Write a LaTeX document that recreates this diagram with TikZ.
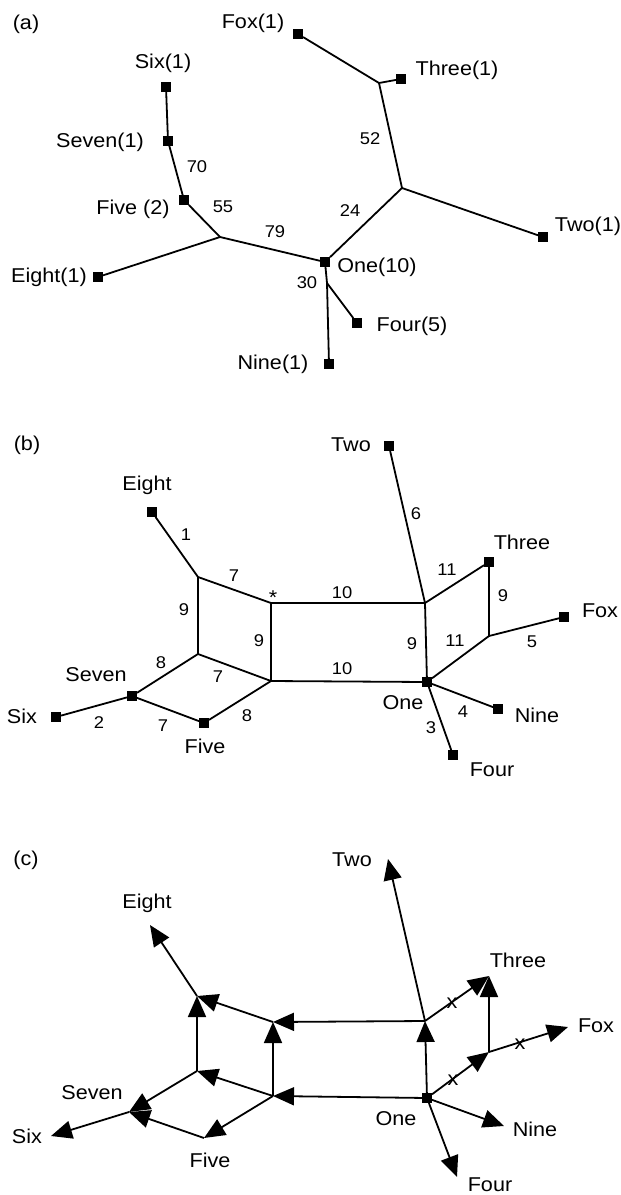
\documentclass[tikz,border=0pt]{standalone}
\usepackage{fontspec}
\setmainfont{Liberation Sans}[FakeStretch=1.08]
\usetikzlibrary{arrows.meta}
\begin{document}
\begin{tikzpicture}[x=1pt,y=-1pt,
  edge/.style={line width=1.8pt},
  sq/.style={fill=black, minimum size=10pt, inner sep=0pt, outer sep=0pt},
  lbl/.style={font=\fontsize{20}{24}\selectfont, inner sep=0pt},
  num/.style={font=\fontsize{17}{20}\selectfont, inner sep=0pt},
  arr/.style={edge, -{Triangle[length=21pt,width=18pt]}},
  xmark/.style={font=\fontsize{20}{24}\selectfont, inner sep=0pt},
]
\useasboundingbox (0,0) rectangle (621,1195);

% ---------------- (a) ----------------
\node[lbl] (ta) at (26,24) {(a)};
\node[sq] (a6) at (166,87) {};   \node[lbl] (la6) at (163,63) {Six(1)};
\node[sq] (a7) at (168,141) {};  \node[lbl] (la7) at (100,142) {Seven(1)};
\node[sq] (a5) at (184,200) {};  \node[lbl] (la5) at (133,209) {Five (2)};
\coordinate (aj1) at (220,237);
\node[sq] (a8) at (98,277) {};   \node[lbl] (la8) at (49,277) {Eight(1)};
\node[sq] (a1) at (325,262) {};  \node[lbl] (la1) at (377,267) {One(10)};
\coordinate (aj4) at (327,283);
\node[sq] (a4) at (357,323) {};  \node[lbl] (la4) at (412,326) {Four(5)};
\node[sq] (a9) at (329,364) {};  \node[lbl] (la9) at (273,364) {Nine(1)};
\coordinate (aj2) at (402,188);
\node[sq] (a2) at (543,237) {};  \node[lbl] (la2) at (588,226) {Two(1)};
\coordinate (aj3) at (379,83);
\node[sq] (af) at (298,34) {};   \node[lbl] (laf) at (253,23) {Fox(1)};
\node[sq] (a3) at (401,79) {};   \node[lbl] (la3) at (457,70) {Three(1)};

\draw[edge] (a6) -- (a7);
\draw[edge] (a7) -- (a5);
\draw[edge] (a5) -- (aj1);
\draw[edge] (aj1) -- (a8);
\draw[edge] (aj1) -- (a1);
\draw[edge] (a1) -- (aj2);
\draw[edge] (aj2) -- (a2);
\draw[edge] (aj2) -- (aj3);
\draw[edge] (aj3) -- (af);
\draw[edge] (aj3) -- (a3);
\draw[edge] (a1) -- (aj4);
\draw[edge] (aj4) -- (a4);
\draw[edge] (aj4) -- (a9);

\node[num] (n70) at (197,167) {70};
\node[num] (n55) at (223,207) {55};
\node[num] (n79) at (275,232) {79};
\node[num] (n30) at (307,283) {30};
\node[num] (n52) at (370,139) {52};
\node[num] (n24) at (350,211) {24};

% ---------------- (b) ----------------
\node[lbl] (tb) at (27,445) {(b)};
\coordinate (bA) at (198,577);
\coordinate (bB) at (271,603);
\coordinate (bC) at (198,654);
\coordinate (bD) at (271,681);
\coordinate (bE) at (425,603);
\coordinate (bF) at (489,636);
\node[sq] (b8) at (152,512) {};  \node[lbl] (lb8) at (147,485) {Eight};
\node[sq] (b7) at (132,696) {};  \node[lbl] (lb7) at (96,675) {Seven};
\node[sq] (b6) at (56,717) {};   \node[lbl] (lb6) at (22,716) {Six};
\node[sq] (b5) at (204,723) {};  \node[lbl] (lb5) at (205,746) {Five};
\node[sq] (b2) at (389,446) {};  \node[lbl] (lb2) at (351,445) {Two};
\node[sq] (b3) at (489,562) {};  \node[lbl] (lb3) at (522,542) {Three};
\node[sq] (bf) at (564,617) {};  \node[lbl] (lbf) at (600,611) {Fox};
\node[sq] (b1) at (427,682) {};  \node[lbl] (lb1) at (403,703) {One};
\node[sq] (b9) at (498,709) {};  \node[lbl] (lb9) at (537,715) {Nine};
\node[sq] (b4) at (453,755) {};  \node[lbl] (lb4) at (492,770) {Four};

\draw[edge] (b8) -- (bA);
\draw[edge] (bA) -- (bB);
\draw[edge] (bA) -- (bC);
\draw[edge] (bB) -- (bD);
\draw[edge] (bB) -- (bE);
\draw[edge] (bC) -- (b7);
\draw[edge] (bC) -- (bD);
\draw[edge] (b7) -- (b6);
\draw[edge] (b7) -- (b5);
\draw[edge] (b5) -- (bD);
\draw[edge] (bD) -- (b1);
\draw[edge] (bE) -- (b1);
\draw[edge] (bE) -- (b2);
\draw[edge] (bE) -- (b3);
\draw[edge] (b3) -- (bF);
\draw[edge] (bF) -- (bf);
\draw[edge] (bF) -- (b1);
\draw[edge] (b1) -- (b9);
\draw[edge] (b1) -- (b4);

\node[num] (m1) at (186,535) {1};
\node[num] (m7a) at (234,576) {7};
\node[lbl] (mst) at (273,598) {*};
\node[num] (m9a) at (184,610) {9};
\node[num] (m9b) at (259,641) {9};
\node[num] (m8a) at (161,663) {8};
\node[num] (m7b) at (218,677) {7};
\node[num] (m2) at (99,723) {2};
\node[num] (m7c) at (163,726) {7};
\node[num] (m8b) at (247,716) {8};
\node[num] (m10a) at (342,593) {10};
\node[num] (m6) at (416,514) {6};
\node[num] (m11a) at (447,570) {11};
\node[num] (m9c) at (503,596) {9};
\node[num] (m5) at (532,642) {5};
\node[num] (m11b) at (455,641) {11};
\node[num] (m9d) at (412,644) {9};
\node[num] (m10b) at (342,669) {10};
\node[num] (m4) at (463,712) {4};
\node[num] (m3) at (431,728) {3};

% ---------------- (c) ----------------
\node[lbl] (tc) at (26,860) {(c)};
\coordinate (cA) at (197,996);
\coordinate (cB) at (273,1022);
\coordinate (cC) at (197,1071);
\coordinate (cD) at (273,1096);
\coordinate (cE) at (425,1021);
\coordinate (cF) at (489,1052);
\coordinate (c7) at (129,1112);
\coordinate (c5) at (204,1138);
\node[sq] (c1) at (427,1098) {};
\coordinate (c8) at (150,925);
\coordinate (c6) at (51,1136);
\coordinate (c2) at (388,859);
\coordinate (c3) at (489,976);
\coordinate (cf) at (568,1027);
\coordinate (c9) at (504,1126);
\coordinate (c4) at (457,1177);

\node[lbl] (lc8) at (147,903) {Eight};
\node[lbl] (lc7) at (92,1093) {Seven};
\node[lbl] (lc6) at (27,1136) {Six};
\node[lbl] (lc5) at (210,1160) {Five};
\node[lbl] (lc2) at (352,860) {Two};
\node[lbl] (lc3) at (518,960) {Three};
\node[lbl] (lcf) at (596,1026) {Fox};
\node[lbl] (lc1) at (396,1119) {One};
\node[lbl] (lc9) at (535,1129) {Nine};
\node[lbl] (lc4) at (490,1185) {Four};

\draw[arr] (cA) -- (c8);
\draw[arr] (cB) -- (cA);
\draw[arr] (cC) -- (cA);
\draw[arr] (cE) -- (cB);
\draw[arr] (cD) -- (cB);
\draw[arr] (cD) -- (cC);
\draw[arr] (cC) -- (c7);
\draw[arr] (c1) -- (cD);
\draw[arr] (cD) -- (c5);
\draw[arr] (c5) -- (c7);
\draw[arr] (c7) -- (c6);
\draw[arr] (c1) -- (cE);
\draw[arr] (cE) -- (c2);
\draw[arr] (cE) -- (c3);
\draw[arr] (cF) -- (c3);
\draw[arr] (c1) -- (cF);
\draw[arr] (cF) -- (cf);
\draw[arr] (c1) -- (c9);
\draw[arr] (c1) -- (c4);

\node[xmark] (x1) at (452,1003) {x};
\node[xmark] (x2) at (520,1044) {x};
\node[xmark] (x3) at (453,1080) {x};
\end{tikzpicture}
\end{document}
